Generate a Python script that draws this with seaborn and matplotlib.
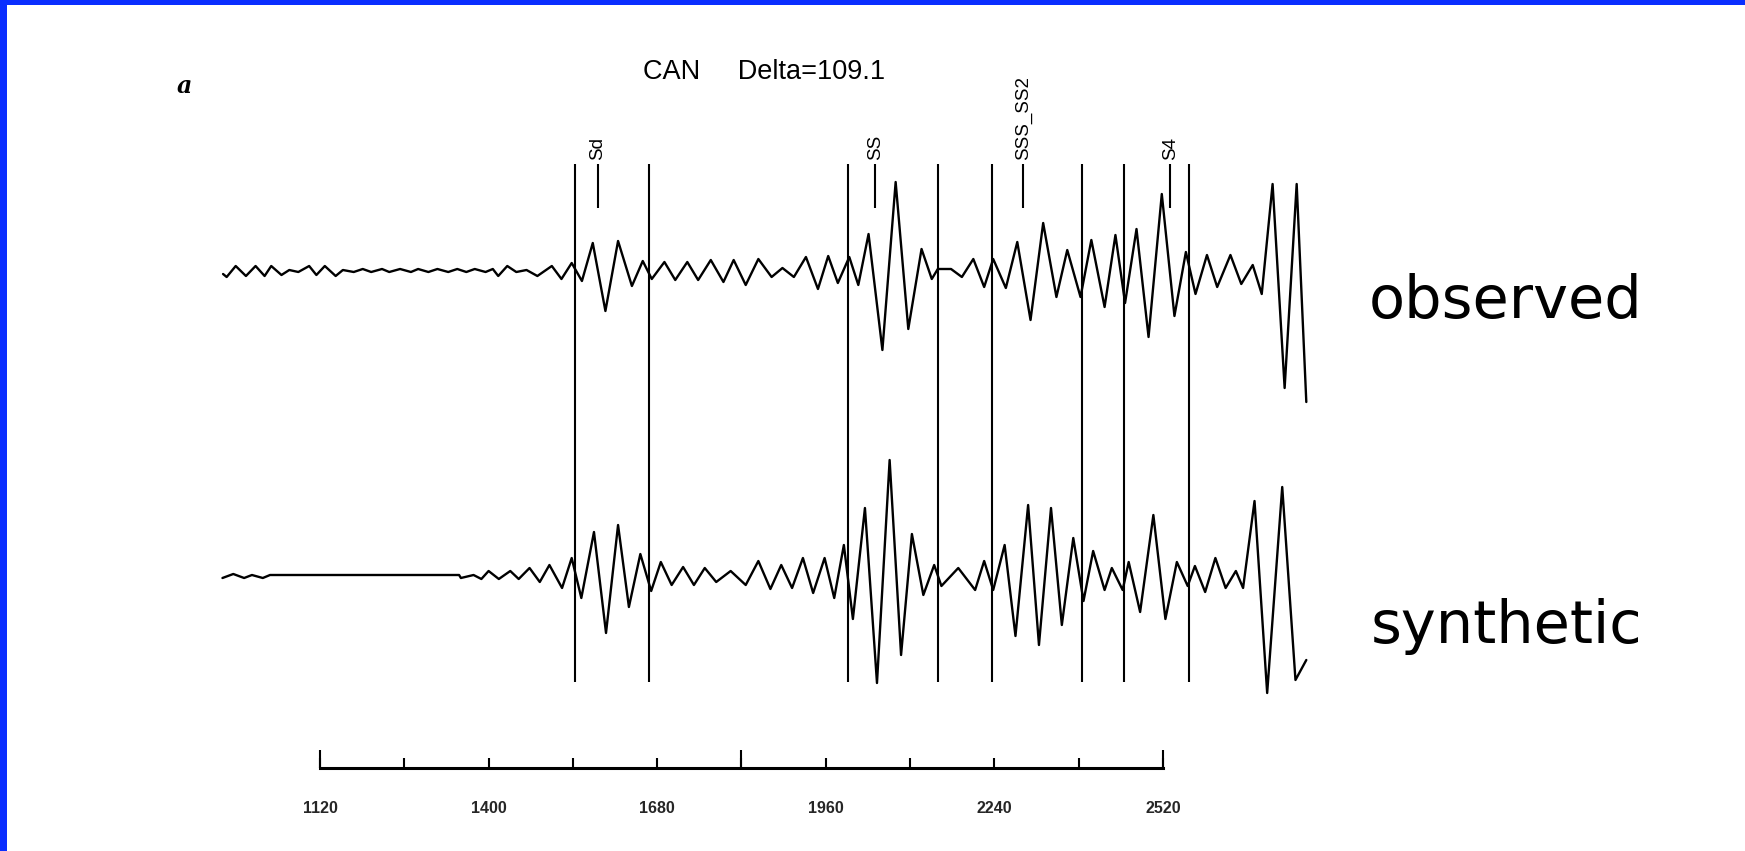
import matplotlib
matplotlib.use("Agg")
import matplotlib.pyplot as plt
from matplotlib import font_manager as fm
from matplotlib.patches import Rectangle
from matplotlib.ticker import FixedLocator, FixedFormatter
import seaborn as sns
import pandas as pd

# ---------------- data ----------------
station_title = "CAN     Delta=109.1"
panel_label = "a"

obs_time = [959, 965, 980, 997, 1013, 1028, 1039, 1056, 1069, 1084,
            1102, 1114, 1128, 1146, 1158, 1176, 1191, 1205, 1223, 1235,
            1253, 1271, 1283, 1300, 1315, 1333, 1348, 1363, 1377, 1395,
            1407, 1416, 1431, 1446, 1463, 1481, 1505, 1521, 1538, 1555,
            1573, 1594, 1615, 1638, 1656, 1671, 1692, 1710, 1730, 1748,
            1769, 1790, 1807, 1827, 1848, 1870, 1888, 1907, 1927, 1947,
            1964, 1980, 1999, 2014, 2031, 2054, 2076, 2097, 2119, 2136,
            2146, 2168, 2186, 2205, 2223, 2238, 2259, 2278, 2300, 2321,
            2343, 2361, 2383, 2401, 2423, 2441, 2457, 2476, 2496, 2518,
            2539, 2558, 2574, 2593, 2610, 2632, 2650, 2669, 2684, 2702,
            2722, 2742, 2758]
obs_amp = [-4, -7, 4, -6, 4, -6, 4, -5, 0, -2,
           4, -5, 4, -6, 0, -2, 1, -2, 1, -2,
           1, -2, 1, -2, 1, -2, 1, -2, 1, -2,
           1, -6, 4, -2, 0, -6, 4, -9, 7, -11,
           27, -41, 29, -16, 9, -9, 8, -10, 8, -10,
           10, -12, 10, -15, 11, -7, 2, -7, 13, -19,
           14, -13, 13, -15, 36, -80, 88, -59, 21, -9,
           1, 1, -7, 11, -17, 11, -18, 28, -50, 47,
           -27, 20, -27, 30, -37, 35, -33, 41, -67, 76,
           -46, 18, -24, 15, -17, 15, -14, 5, -24, 86,
           -118, 86, -132]

syn_time = [958, 976, 994, 1007, 1025, 1037, 1351, 1354, 1375, 1388,
            1400, 1417, 1436, 1450, 1468, 1485, 1501, 1522, 1538, 1554,
            1575, 1595, 1615, 1633, 1652, 1670, 1686, 1704, 1723, 1741,
            1759, 1778, 1802, 1827, 1848, 1868, 1886, 1904, 1922, 1939,
            1958, 1974, 1990, 2005, 2025, 2045, 2066, 2085, 2103, 2122,
            2140, 2152, 2180, 2208, 2223, 2238, 2257, 2275, 2296, 2314,
            2334, 2352, 2371, 2388, 2404, 2423, 2435, 2453, 2463, 2482,
            2504, 2524, 2543, 2561, 2573, 2590, 2607, 2624, 2641, 2653,
            2672, 2693, 2718, 2740, 2758]
syn_amp = [-3, 1, -3, 0, -3, 0, 0, -3, 0, -4,
           4, -4, 4, -4, 7, -7, 10, -13, 17, -23,
           43, -58, 50, -32, 21, -16, 13, -10, 8, -10,
           7, -7, 4, -10, 14, -14, 10, -13, 17, -18,
           17, -23, 30, -44, 67, -108, 115, -80, 41, -20,
           10, -11, 7, -15, 14, -15, 30, -61, 70, -70,
           67, -50, 37, -26, 24, -15, 7, -15, 13, -37,
           60, -44, 13, -11, 9, -17, 17, -13, 4, -13,
           74, -118, 88, -105, -85]

window_times = [1544, 1666, 1997, 2147, 2236, 2386, 2456, 2563]
phase_times = [1581, 2042, 2288, 2532]
phase_names = ["Sd", "SS", "SSS_SS2", "S4"]

scale_ticks = [1120, 1260, 1400, 1540, 1680, 1820, 1960, 2100, 2240, 2380, 2520]
scale_long_ticks = [1120, 1820, 2520]
scale_labels = ["1120", "", "1400", "", "1680", "", "1960", "", "2240", "", "2520"]

assert len(obs_time) == len(obs_amp)
assert len(syn_time) == len(syn_amp)

# ---------------- style ----------------
sns.set_theme(style="white")
names = {f.name for f in fm.fontManager.ttflist}
if "Liberation Sans Narrow" in names:
    narrow = "Liberation Sans Narrow"
    nscale = 1.2
elif "Liberation Sans" in names:
    narrow = "Liberation Sans"
    nscale = 1.0
else:
    narrow = "DejaVu Sans"
    nscale = 0.9
plt.rcParams["font.family"] = ["DejaVu Sans"]

W, H = 1745, 851
fig = plt.figure(figsize=(W / 100, H / 100), dpi=100)
fig.patch.set_facecolor("white")

# main axes: x = time (s), y = pixel rows (inverted)
px_per_s = 843 / 1400.0
t0 = 1120 - 320 / px_per_s
t1 = 1120 + (W - 320) / px_per_s
ax = fig.add_axes([0, 0, 1, 1])

obs_base = 270
syn_base = 575
df_obs = pd.DataFrame({"t": obs_time, "y": [obs_base - a for a in obs_amp]})
df_syn = pd.DataFrame({"t": syn_time, "y": [syn_base - a for a in syn_amp]})
sns.lineplot(data=df_obs, x="t", y="y", ax=ax, color="black", lw=1.7,
             estimator=None, sort=False)
sns.lineplot(data=df_syn, x="t", y="y", ax=ax, color="black", lw=1.7,
             estimator=None, sort=False)
ax.set_xlim(t0, t1)
ax.set_ylim(H, 0)
ax.axis("off")

ax.vlines(window_times, 164, 682, color="black", lw=1.5)
ax.vlines(phase_times, 164, 208, color="black", lw=1.5)
for t, name in zip(phase_times, phase_names):
    ax.text(t, 160, name, rotation=90, ha="center", va="bottom",
            fontsize=13.5 * nscale, family=narrow, color="black")

fig.text(643 / W, 1 - 72 / H, station_title, ha="left", va="center",
         fontsize=19.5 * nscale, family=narrow, color="black")
fig.text(184 / W, 1 - 86 / H, panel_label, ha="center", va="center",
         fontsize=17, fontweight="bold", fontstyle="italic",
         family="DejaVu Serif", color="black")

fig.text(1369 / W, 1 - 318 / H, "observed", ha="left", va="baseline",
         fontsize=42.5, color="black")
fig.text(1371 / W, 1 - 643 / H, "synthetic", ha="left", va="baseline",
         fontsize=42.5, color="black")

# time scale bar
ax2 = fig.add_axes([320 / W, (H - 768) / H, 843 / W, 0.04])
ax2.set_xlim(1120, 2520)
ax2.set_ylim(0, 1)
ax2.patch.set_alpha(0)
for s in ["top", "left", "right"]:
    ax2.spines[s].set_visible(False)
ax2.spines["bottom"].set_linewidth(2.2)
ax2.spines["bottom"].set_color("black")
ax2.set_yticks([])
ax2.xaxis.remove_overlapping_locs = False
ax2.xaxis.set_major_locator(FixedLocator(scale_ticks))
ax2.xaxis.set_major_formatter(FixedFormatter(scale_labels))
ax2.xaxis.set_minor_locator(FixedLocator(scale_long_ticks))
ax2.tick_params(axis="x", which="major", direction="in", length=7, width=1.5,
                color="black", pad=24, labelsize=11.5 * nscale, bottom=True)
ax2.tick_params(axis="x", which="minor", direction="in", length=13, width=1.5,
                color="black", bottom=True)
for lab in ax2.get_xticklabels():
    lab.set_family(narrow)
    lab.set_fontweight("bold")

# blue frame
blue = "#0A2EFF"
fig.add_artist(Rectangle((0, 0), 7 / W, 1, transform=fig.transFigure,
                         facecolor=blue, edgecolor="none"))
fig.add_artist(Rectangle((0, 1 - 5 / H), 1, 5 / H, transform=fig.transFigure,
                         facecolor=blue, edgecolor="none"))

fig.savefig("out.png", dpi=100)
